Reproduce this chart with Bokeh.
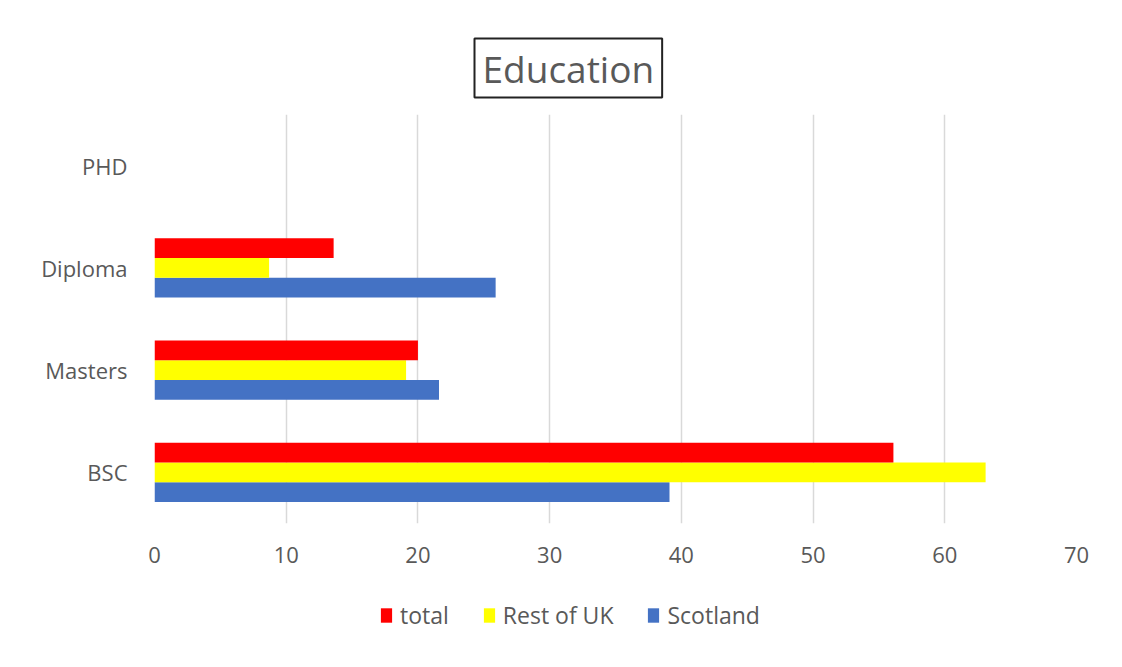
from bokeh.plotting import figure
from bokeh.layouts import column
from bokeh.models import ColumnDataSource, FactorRange, Legend, LegendItem, Range1d, Title
from bokeh.transform import dodge
from bokeh.embed import file_html
from bokeh.resources import INLINE

categories = ["BSC", "Masters", "Diploma", "PHD"]
scotland = [39.1, 21.6, 25.9, 0]
rest_of_uk = [63.1, 19.1, 8.7, 0]
total = [56.1, 20.0, 13.6, 0]
x_ticks = [0, 10, 20, 30, 40, 50, 60, 70]
series_names = ["total", "Rest of UK", "Scotland"]
series_colors = ["#FF0000", "#FFFF00", "#4472C4"]

src = ColumnDataSource(dict(cat=categories, scotland=scotland, rest=rest_of_uk, total=total))

FONT = "Open Sans"
GREY = "#595959"
BAR_H = 0.193

p = figure(width=1122, height=590, output_backend="svg", toolbar_location=None,
           y_range=FactorRange(factors=categories, range_padding=0),
           x_range=Range1d(0, 70), min_border_left=154, min_border_right=46,
           min_border_top=114, min_border_bottom=67)
p.title = Title(text="Education", align="left", offset=320, text_font=FONT,
                text_font_size="37px", text_color=GREY, text_font_style="normal",
                border_line_color="#222222", border_line_width=2, standoff=34,
                padding=dict(left=8, right=8, top=4, bottom=4))

r_sc = p.hbar(y=dodge("cat", -BAR_H, range=p.y_range), right="scotland", height=BAR_H,
              source=src, fill_color=series_colors[2], line_color=None)
r_re = p.hbar(y=dodge("cat", 0.0, range=p.y_range), right="rest", height=BAR_H,
              source=src, fill_color=series_colors[1], line_color=None)
r_to = p.hbar(y=dodge("cat", BAR_H, range=p.y_range), right="total", height=BAR_H,
              source=src, fill_color=series_colors[0], line_color=None)

p.xaxis.ticker = x_ticks
p.xgrid.grid_line_color = "#D9D9D9"
p.xgrid.grid_line_width = 1.5
p.ygrid.grid_line_color = None
p.outline_line_color = None
for ax in (p.xaxis[0], p.yaxis[0]):
    ax.axis_line_color = None
    ax.major_tick_line_color = None
    ax.minor_tick_line_color = None
    ax.major_label_text_font = FONT
    ax.major_label_text_font_size = "22px"
    ax.major_label_text_color = GREY
p.xaxis.major_label_standoff = 17
p.yaxis.major_label_standoff = 21

# legend strip below the chart (its frame is aligned with the chart's frame)
q = figure(width=1122, height=77, output_backend="svg", toolbar_location=None,
           x_axis_type=None, y_axis_type=None, x_range=Range1d(0, 1), y_range=Range1d(0, 1),
           min_border=0)
q.outline_line_color = None
leg_r = [q.hbar(y=[-10], left=[-10], right=[-9], height=0.1, fill_color=c, line_color=None)
         for c in series_colors]
legend = Legend(items=[LegendItem(label=n, renderers=[r]) for n, r in zip(series_names, leg_r)],
                orientation="horizontal", location=(225, 36),
                label_text_font=FONT, label_text_font_size="23px", label_text_color=GREY,
                glyph_width=14, glyph_height=18, label_standoff=7, spacing=33,
                border_line_color=None, background_fill_alpha=0, margin=0, padding=0)
q.add_layout(legend, "center")

layout = column(p, q, spacing=0)
open("out.html", "w").write(file_html(layout, INLINE))
